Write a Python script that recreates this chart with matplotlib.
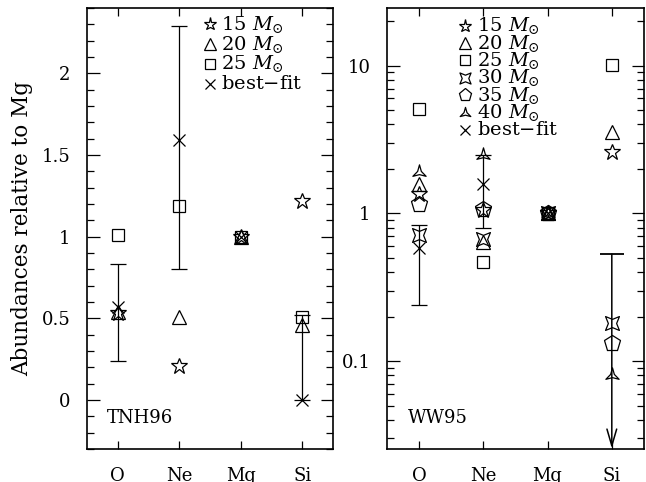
import matplotlib
matplotlib.use("Agg")
import matplotlib.pyplot as plt
import numpy as np
from matplotlib.path import Path
from matplotlib.ticker import FixedLocator, MultipleLocator, LogLocator, NullFormatter, FuncFormatter

plt.rcParams["font.family"] = ["DejaVu Serif"]
plt.rcParams["mathtext.fontset"] = "dejavuserif"

elements = ["O", "Ne", "Mg", "Si"]

# TNH96 model abundances (relative to Mg)
tnh_15 = [0.53, 0.21, 1.0, 1.22]
tnh_20 = [0.54, 0.51, 1.0, 0.46]
tnh_25 = [1.01, 1.19, 1.0, 0.51]
tnh_fit = [0.57, 1.59, 1.0, 0.0]
tnh_lo = [0.24, 0.80, np.nan, 0.0]
tnh_hi = [0.83, 2.29, np.nan, 0.52]

# WW95 model abundances (relative to Mg)
ww_15 = [1.36, 1.06, 1.0, 2.6]
ww_20 = [1.59, 0.64, 1.0, 3.55]
ww_25 = [5.1, 0.47, 1.0, 10.1]
ww_30 = [0.71, 0.67, 1.0, 0.18]
ww_35 = [1.15, 1.07, 1.0, 0.133]
ww_40 = [1.92, 2.47, 1.0, 0.080]
ww_fit = [0.58, 1.59, 1.0, np.nan]
ww_lo = [0.24, 0.80, np.nan, np.nan]
ww_hi = [0.83, 2.47, np.nan, np.nan]
ww_si_upper = 0.53

LW = 0.9

# concave 3- and 4-point stars (pgplot-like symbols)
_rot = np.pi / 4
_star4 = Path.unit_regular_star(4, 0.42)
_star4 = Path(_star4.vertices @ np.array([[np.cos(_rot), np.sin(_rot)],
                                           [-np.sin(_rot), np.cos(_rot)]]),
              _star4.codes)
_star3 = Path.unit_regular_star(3, 0.28)

MARKERS = {
    "15": dict(marker="*", ms=12),
    "20": dict(marker="^", ms=10),
    "25": dict(marker="s", ms=8.5),
    "30": dict(marker=_star4, ms=10),
    "35": dict(marker="p", ms=12),
    "40": dict(marker=_star3, ms=11),
    "fit": dict(marker="x", ms=9),
}


def _pts(ax, x, y, key):
    m = MARKERS[key]
    ax.plot(x, y, linestyle="none", marker=m["marker"], ms=m["ms"],
            mfc="none", mec="black", mew=LW)


def _errbars(ax, x, y, lo, hi):
    y = np.asarray(y, dtype=float)
    lo = np.asarray(lo, dtype=float)
    hi = np.asarray(hi, dtype=float)
    ok = ~np.isnan(lo)
    ax.errorbar(np.asarray(x)[ok], y[ok],
                yerr=[y[ok] - lo[ok], hi[ok] - y[ok]],
                fmt="none", ecolor="black", elinewidth=LW,
                capsize=6, capthick=LW)


def _legend(ax, rows, x0, y0, dy, fs):
    for i, (key, label) in enumerate(rows):
        m = MARKERS[key]
        ax.plot([x0], [y0 - i * dy], transform=ax.transAxes,
                marker=m["marker"], ms=m["ms"] * 0.8, mfc="none",
                mec="black", mew=LW, linestyle="none", clip_on=False)
        ax.text(x0 + 0.045, y0 - i * dy, label, transform=ax.transAxes,
                fontsize=fs, va="center", ha="left")


def _style(ax):
    ax.tick_params(which="both", direction="in", top=True, right=True,
                   width=0.9, labelsize=13)
    ax.tick_params(which="major", length=9)
    ax.tick_params(which="minor", length=5)
    ax.tick_params(axis="x", which="major", pad=13, length=6)
    ax.tick_params(axis="y", which="major", pad=12)
    for s in ax.spines.values():
        s.set_linewidth(1.2)


fig = plt.figure(figsize=(6.46, 4.82), dpi=100)
ax1 = fig.add_axes([0.1347, 0.0685, 0.3808, 0.915])
ax2 = fig.add_axes([0.599, 0.0685, 0.3978, 0.915])

x = np.arange(1, len(elements) + 1)

# ---- TNH96 panel
_errbars(ax1, x, tnh_fit, tnh_lo, tnh_hi)
_pts(ax1, x, tnh_15, "15")
_pts(ax1, x, tnh_20, "20")
_pts(ax1, x, tnh_25, "25")
_pts(ax1, x, tnh_fit, "fit")
ax1.set_xlim(0.5, 4.5)
ax1.set_ylim(-0.3, 2.4)
ax1.xaxis.set_major_locator(FixedLocator(x))
ax1.set_xticklabels(elements)
ax1.yaxis.set_major_locator(MultipleLocator(0.5))
ax1.yaxis.set_minor_locator(MultipleLocator(0.1))
ax1.yaxis.set_major_formatter(FuncFormatter(lambda v, p: f"{v:g}"))
ax1.set_ylabel("Abundances relative to Mg", fontsize=15.5, labelpad=6)
ax1.text(0.08, 0.07, "TNH96", transform=ax1.transAxes, fontsize=13,
         va="center")
_style(ax1)
_legend(ax1, [("15", r"15 $M_{\odot}$"), ("20", r"20 $M_{\odot}$"),
              ("25", r"25 $M_{\odot}$"), ("fit", "best$-$fit")],
        0.5, 0.963, 0.045, 14)

# ---- WW95 panel
ax2.set_yscale("log")
_errbars(ax2, x, ww_fit, ww_lo, ww_hi)
for key, vals in [("15", ww_15), ("20", ww_20), ("25", ww_25),
                  ("30", ww_30), ("35", ww_35), ("40", ww_40),
                  ("fit", ww_fit)]:
    _pts(ax2, x, vals, key)
ax2.set_xlim(0.5, 4.5)
ax2.set_ylim(0.0254, 24.6)
# Si upper limit
ax2.plot([x[3]], [ww_si_upper], marker="_", ms=17, mew=1.3, color="black")
ax2.annotate("", xy=(x[3], 0.0256), xytext=(x[3], ww_si_upper),
             arrowprops=dict(arrowstyle="->,head_length=1.2,head_width=0.35",
                             lw=1.1, color="black", shrinkA=0, shrinkB=0))
ax2.xaxis.set_major_locator(FixedLocator(x))
ax2.set_xticklabels(elements)
ax2.yaxis.set_major_locator(LogLocator(base=10, numticks=10))
ax2.yaxis.set_minor_locator(LogLocator(base=10, subs=np.arange(2, 10), numticks=10))
ax2.yaxis.set_minor_formatter(NullFormatter())
ax2.yaxis.set_major_formatter(FuncFormatter(lambda v, p: f"{v:g}"))
ax2.text(0.08, 0.07, "WW95", transform=ax2.transAxes, fontsize=13,
         va="center")
_style(ax2)
_legend(ax2, [("15", r"15 $M_{\odot}$"), ("20", r"20 $M_{\odot}$"),
              ("25", r"25 $M_{\odot}$"), ("30", r"30 $M_{\odot}$"),
              ("35", r"35 $M_{\odot}$"), ("40", r"40 $M_{\odot}$"),
              ("fit", "best$-$fit")],
        0.305, 0.96, 0.0395, 14)

fig.savefig("out.png", dpi=100)
